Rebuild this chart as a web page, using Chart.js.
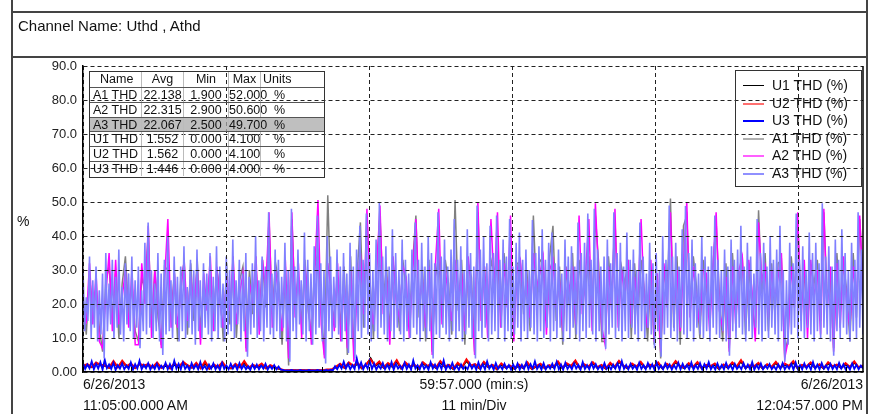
<!DOCTYPE html>
<html>
<head>
<meta charset="utf-8">
<script src="https://cdn.jsdelivr.net/npm/chart.js@4.4.0/dist/chart.umd.min.js"></script>
<style>
html,body{margin:0;padding:0;background:#fff;}
body{width:872px;height:414px;position:relative;overflow:hidden;font-family:"Liberation Sans",Arial,sans-serif;color:#111;}
#c{position:absolute;left:0;top:0;}
.ln{position:absolute;background:#444;}
.txt{position:absolute;white-space:nowrap;font-size:14px;line-height:16px;color:#111;}
#tbl{position:absolute;left:89px;top:71px;width:236px;height:107px;border:1.5px solid #333;box-sizing:border-box;font-size:12.5px;}
#tbl .row{position:absolute;left:0;width:100%;height:15.3px;box-sizing:border-box;}
#tbl .cell{position:absolute;top:0;height:100%;line-height:15px;white-space:nowrap;box-sizing:border-box;}
#leg{position:absolute;left:735px;top:70px;width:127px;height:117px;border:1.5px solid #333;box-sizing:border-box;font-size:14px;}
#leg .item{position:absolute;left:0;height:17px;width:100%;}
#leg .sw{position:absolute;left:7px;top:8px;width:21px;height:2px;}
#leg .lt{position:absolute;left:36px;top:0;line-height:17px;white-space:nowrap;}
</style>
</head>
<body>
<canvas id="c" width="872" height="414"></canvas>
<div class="ln" style="left:11px;top:0;width:2px;height:414px"></div>
<div class="ln" style="left:866px;top:0;width:2px;height:414px"></div>
<div class="ln" style="left:11px;top:11px;width:857px;height:2px"></div>
<div class="ln" style="left:11px;top:56px;width:857px;height:2px"></div>
<div class="txt" style="left:18px;top:17px;font-size:15px;line-height:18px">Channel Name: Uthd , Athd</div>
<div class="txt" style="left:17px;top:213px">%</div>
<div class="txt" style="left:83px;top:376px">6/26/2013</div>
<div class="txt" style="left:83px;top:397px">11:05:00.000 AM</div>
<div class="txt" style="left:374px;width:200px;text-align:center;top:376px">59:57.000 (min:s)</div>
<div class="txt" style="left:374px;width:200px;text-align:center;top:397px">11 min/Div</div>
<div class="txt" style="left:663px;width:200px;text-align:right;top:376px">6/26/2013</div>
<div class="txt" style="left:663px;width:200px;text-align:right;top:397px">12:04:57.000 PM</div>
<div id="tbl"></div>
<div id="leg"></div>
<script>
// ---- data ----
const TOTAL_S = 3597; // 59:57 in seconds
const yTicksMax = 90;
const xMajorTicks = [0, 660, 1320, 1980, 2640, 3300];
const xMinorTicks = [220, 440, 880, 1100, 1540, 1760, 2200, 2420, 2860, 3080, 3520];

const seriesNames = ['U1 THD (%)', 'U2 THD (%)', 'U3 THD (%)', 'A1 THD (%)', 'A2 THD (%)', 'A3 THD (%)'];
const seriesColors = ['#000000', '#ff0000', '#0000ff', '#808080', '#ff00ff', '#8080ff'];
const legendColors = ['#000000', '#ff7070', '#0000ff', '#b0b0b0', '#ff60ff', '#9090ff'];

const tableHead = ['Name', 'Avg', 'Min', 'Max', 'Units'];
const tableNames = ['A1 THD', 'A2 THD', 'A3 THD', 'U1 THD', 'U2 THD', 'U3 THD'];
const tableAvg = ['22.138', '22.315', '22.067', '1.552', '1.562', '1.446'];
const tableMin = ['1.900', '2.900', '2.500', '0.000', '0.000', '0.000'];
const tableMax = ['52.000', '50.600', '49.700', '4.100', '4.100', '4.000'];
const tableUnits = ['%', '%', '%', '%', '%', '%'];

const A3 = [
30,12,22,15,34,10,27,13,31,9,24,11,29,4,35,12,26,14,33,10,28,13,36,11,25,9,32,14,29,12,34,10,27,13,31,7,24,12,38,11,
44,13,30,10,26,12,35,9,29,5,33,11,40,12,27,10,34,14,28,9,31,12,37,10,25,13,33,11,30,8,36,12,27,10,32,13,29,11,35,9,
28,12,37,10,31,13,26,9,34,11,30,12,39,10,27,14,33,9,29,12,35,4.5,28,11,32,13,40,10,27,12,34,9,31,13,47,11,29,10,36,12,
33,10,28,13,38,9,30,3,48,12,31,10,36,14,27,11,41,9,33,12,29,8,37,11,46,13,32,9,30,2.5,40,12,34,10,28,13,36,11,31,9,
35,12,29,5.6,38,10,31,4,36,12,43,10,33,13,46.6,11,35,9,30,12,39,10,49.7,13,34,11,37,9,31,12,42,10,35,13,30,11,39,9,33,12,
29,10,36,13,44,11,33,9,38,12,31,10,40,12,35,4,32,11,47,10,34,13,39,11,31,9,36,12,45,10,33,12,37,9,30,11,42,13,35,10,
31,4,49,12,36,10,40,13,32,9,43,11,35,12,46,10,33,13,39,9,34,12,45,10,31,11,38,13,41,9,33,12,36,10,30,13,44.7,11,35,9,
37,12,42,10,33,13,38,9,41,12,32,10,36,13,29,9,39,12,34,10,37,13,31,11,44,9,35,12,38,10,46.6,13,33,11,48,9,36,12,31,10,
34,6.8,39,11,32,13,47,10,35,12,38,9,31,12,41,10,33,13,36,11,30,9,44,12,34,10,29,13,38,11,32,7,35,12,30,4.5,40,11,33,13,
49,10,34,12,38,9,31,13,42,11,48.8,10,35,12,39,9,32,13,29,11,40,10,34,12,31,9,37,13,46,11,33,10,30,12,36,9,31,4.8,39,12,
33,10,36,13,43,11,31,9,38,12,34,10,29,13,45,11,35,9,38,12,31,10,40,13,33,11,36,9,43,12,30,3,27,8,38,11,32,13,46.6,10,
33,12,37,10,30,13,41,11,35,9,38,12,32,10,49.6,13,34,11,37,9,31,4.8,39,12,33,10,42,13,35,11,30,9,38,12,33,10,47,13,36,11
];
const A1 = [
22,11,28,18,25,13,6,27,31,16,29,10,26,34,17,26,12,9,28,24,
41,14,30,16,8,31,30,17,29,9,28,32,11,32,15,33,12,25,22,30,
16,30,24,9,32,14,31,10,27,31,7,30,17,31,15,33,19,45,17,32,
26,8,31,1.9,45,20,28,14,33,18,11,31,35,18,5,52,20,16,28,13,
31,5,34,6,29,44,13,45,26,10,31,46,21,31,12,32,24,12,33,24,
14,32,46,16,31,9,33,6,28,34,18,33,26,11,50.6,18,33,8,32,28,
6,47,19,31,14,33,29,34,17,35,23,33,13,32,32,17,30,12,46,21,
33,32,15,34,43,15,31,8,31,20,35,10,33,21,25,34,16,46,32,9,
9,34,22,45,17,31,26,33,10,32,16,33,24,9,30,8,25,4,30,23,
51,13,34,8,43,46,20,34,25,10,33,25,16,31,44,22,9,32,7,35,
18,26,34,11,30,20,12,47.6,23,35,12,32,17,32,33,5,10,34,23,44,
19,29,14,31,26,33,15,47,22,27,7,35,17,32,24,9,35,16,45,27
];
const A2 = [
18,15,32,14,29,9,7,23,35,12,33,14,22,30,13,30,8,8,32,20,
43,10,30,20,7,27,45,13,29,13,24,33,15,28,19,31,8,29,18,34,
12,31,20,13,28,18,34,14,23,29,6,26,21,34,11,33,23,47,13,30,
22,12,33,4,47,16,32,10,31,22,8,29,50.6,14,4,32,24,12,32,9,
27,7,30,3,25,35,17,48,22,14,30,49,17,28,8,34,20,16,31,28,
10,29,45,20,27,13,31,5,32,48,14,30,22,15,33,22,29,12,34,24,
5,50,15,31,10,45,25,47,13,32,19,46,9,30,33,21,26,16,35,25,
29,34,11,30,33,19,27,12,30,24,31,14,46,17,29,45,12,49.6,28,13,
8,31,18,48,13,30,22,33,14,28,20,45,20,13,33,9,29,6,32,19,
47,17,30,12,32,50,16,31,21,14,30,29,12,30,47,18,13,28,6,31,
14,30,34,15,33,24,9,44,27,31,16,30,21,28,35,4,9,31,19,47,
15,33,10,33,22,30,11,48,18,31,6,32,13,34,20,13,31,20,46,23
];
const U1 = [
1.6,2.0,1.4,2.6,1.9,1.8,1.2,2.7,1.5,3.0,1.5,2.0,1.1,2.3,1.6,1.9,1.3,2.4,1.3,1.8,
1.0,2.1,1.4,2.7,1.8,1.2,2.2,1.2,2.5,0.9,1.8,1.3,2.4,1.3,1.0,2.0,1.5,2.6,1.1,1.9,
1.4,2.0,1.0,1.8,1.2,0.9,0.5,0.4,0.5,0.4,0.5,0.4,0.5,0.4,0.5,0.4,0.6,0.6,1.3,2.0,
1.2,2.6,1.6,2.3,1.0,2.1,4.1,1.7,2.6,1.2,2.2,1.5,3.0,1.0,2.4,1.4,2.0,0.9,2.5,1.6,
2.0,1.1,2.7,1.5,1.9,0.8,2.3,1.3,3.2,1.7,2.0,1.0,2.6,1.4,1.9,0.7,2.1,1.2,1.7,0.9,
1.8,1.1,2.4,0.8,1.5,2.0,1.0,1.8,1.3,2.7,1.1,2.2,1.6,3.0,1.0,2.1,1.4,2.5,1.2,1.9,
0.9,2.3,1.3,2.9,1.7,1.0,2.1,1.4,2.6,1.1,2.0,1.5,2.4,0.9,2.2,1.3,2.8,1.6,1.1,2.2,
1.3,2.5,1.0,1.9,1.5,2.1,0.8,2.0,1.2,2.4,1.4,3.0,1.1,1.8,1.5,2.3,0.9,2.1,1.3,2.6,
1.1,2.1,1.6,2.7,1.0,1.9,1.4,2.4,1.2,2.1,0.9,2.5,1.5,2.0,1.1,2.2,1.3,2.7,1.2,1.7
];
const U2 = [
1.8,2.3,1.5,2.8,2.1,2.0,1.3,3.2,1.4,3.3,1.7,2.5,1.2,2.4,1.9,2.3,1.4,2.8,1.2,2.2,
1.1,2.6,1.5,3.0,2.0,1.3,2.7,1.1,3.1,1.0,2.2,1.5,2.9,1.2,1.2,2.4,1.4,3.2,1.3,2.1,
1.6,2.5,1.1,2.0,1.4,1.0,0.6,0.5,0.6,0.5,0.6,0.5,0.6,0.5,0.6,0.5,0.7,0.7,1.5,2.4,
1.3,2.8,1.8,2.7,1.2,2.3,3.7,1.9,3.1,1.4,2.6,1.7,3.5,1.2,2.8,1.6,2.2,1.1,2.9,1.8,
2.4,1.3,3.2,1.7,2.1,1.0,2.7,1.5,3.7,1.9,2.3,1.2,3.0,1.6,2.1,0.9,2.5,1.4,1.9,1.1,
2.2,1.3,2.8,1.0,1.7,2.4,1.2,2.0,1.5,3.1,1.3,2.6,1.8,3.4,1.2,2.3,1.6,2.9,1.4,2.1,
1.1,2.7,1.5,3.3,1.9,1.2,2.5,1.6,3.0,1.3,2.2,1.7,2.8,1.1,2.4,1.5,3.2,1.8,1.3,2.6,
1.5,2.9,1.2,2.1,1.7,2.5,1.0,2.2,1.4,2.8,1.6,3.5,1.3,2.0,1.7,2.7,1.1,2.3,1.5,3.0,
1.3,2.5,1.8,3.2,1.2,2.1,1.6,2.8,1.4,2.3,1.1,2.9,1.7,2.2,1.3,2.6,1.5,3.1,1.4,1.9
];
const U3 = [
2.6,0.9,2.2,1.1,3.1,0.8,2.4,1.0,2.9,0.7,3.6,1.1,2.2,0.9,2.7,0.6,2.0,1.0,2.5,0.8,1.9,0.9,2.8,0.7,2.3,1.0,3.3,0.8,2.1,1.1,2.6,0.7,2.0,0.9,2.4,0.8,1.9,1.0,2.7,0.8,
2.3,0.7,3.3,1.0,2.4,0.8,2.8,0.9,1.9,0.6,2.6,1.0,2.1,0.8,2.9,0.9,1.8,0.7,2.2,1.0,2.5,0.8,2.0,0.6,2.7,0.9,1.9,0.8,2.4,1.0,2.1,0.7,2.6,0.9,2.0,0.8,1.7,0.6,2.2,0.9,
2.2,0.8,1.9,1.0,2.4,0.7,1.8,0.9,2.0,0.8,1.6,0.7,0.6,0.4,0.5,0.4,0.6,0.4,0.5,0.4,0.6,0.4,0.5,0.4,0.6,0.4,0.5,0.4,0.6,0.4,0.5,0.4,0.6,0.4,0.7,0.5,1.7,0.8,2.1,1.0,
3.0,1.0,2.4,0.8,2.0,0.9,4.0,1.1,2.8,0.8,2.3,1.0,3.2,0.9,2.5,0.7,1.9,1.0,2.6,0.8,2.1,0.9,2.9,0.7,2.4,1.0,1.8,0.8,2.7,0.9,2.2,0.7,3.4,1.0,2.0,0.8,2.5,0.9,1.9,0.7,
2.9,1.0,2.2,0.8,2.4,0.9,3.4,0.7,2.0,1.0,2.7,0.8,1.8,0.6,2.2,0.9,1.6,0.8,2.5,1.0,2.1,0.7,2.8,0.9,2.3,0.8,3.1,1.0,2.0,0.7,2.6,0.9,1.8,0.8,2.4,1.0,2.0,0.7,2.2,0.9,
2.5,0.7,2.1,0.9,2.8,0.8,2.3,1.0,3.1,0.9,2.0,0.7,2.6,0.8,1.9,1.0,2.4,0.9,3.0,0.8,2.2,0.7,2.7,0.9,1.9,0.8,2.5,1.0,2.1,0.7,2.9,0.9,2.0,0.8,2.6,1.0,2.3,0.8,1.8,0.7,
2.6,0.9,1.8,0.8,2.2,1.0,2.5,0.7,3.2,0.9,2.1,0.8,2.4,1.0,1.9,0.7,2.7,0.9,2.0,0.8,2.6,1.0,2.3,0.7,2.8,0.9,1.9,0.8,2.5,1.0,2.2,0.7,2.0,0.9,2.7,0.8,2.4,1.0,2.1,0.8,
2.8,0.7,2.0,0.9,2.6,0.8,2.3,1.0,2.9,0.8,1.9,0.7,2.5,0.9,2.1,0.8,2.7,1.0,2.0,0.7,2.4,0.9,1.8,0.8,2.6,1.0,2.2,0.8,2.9,0.7,2.0,0.9,2.5,0.8,1.9,1.0,2.3,0.8,1.7,0.7,
2.2,0.9,2.6,0.8,1.9,1.0,2.4,0.7,2.8,0.9,2.0,0.8,2.5,1.0,2.1,0.7,2.9,0.9,2.2,0.8,2.6,1.0,1.9,0.7,2.4,0.9,2.0,0.8,2.7,1.0,2.3,0.8,1.8,0.7,2.5,0.9,2.1,0.8,1.9,1.0
];

// ---- build ----
function toXY(arr) {
  const n = arr.length;
  return arr.map((v, i) => ({ x: i * TOTAL_S / (n - 1), y: v }));
}
const seriesData = [U1, U2, U3, A1, A2, A3];
const widths = [1.6, 2.0, 1.8, 1.5, 1.5, 1.6];

const frameTicks = {
  id: 'frameTicks',
  afterDraw(chart) {
    const { ctx, chartArea: a, scales: { x } } = chart;
    ctx.save();
    ctx.strokeStyle = '#000';
    ctx.lineWidth = 1;
    ctx.beginPath();
    for (const v of xMinorTicks.concat(xMajorTicks)) {
      const px = Math.round(x.getPixelForValue(v)) + 0.5;
      ctx.moveTo(px, a.bottom);
      ctx.lineTo(px, a.bottom - 5);
    }
    ctx.stroke();
    ctx.lineWidth = 1.5;
    ctx.beginPath();
    ctx.moveTo(a.right, a.top);
    ctx.lineTo(a.right, a.bottom);
    ctx.stroke();
    ctx.restore();
  }
};

new Chart(document.getElementById('c'), {
  type: 'line',
  data: {
    datasets: seriesData.map((d, i) => ({
      label: seriesNames[i],
      data: toXY(d),
      borderColor: seriesColors[i],
      borderWidth: widths[i],
      pointRadius: 0,
      tension: 0,
      fill: false,
      order: seriesData.length - i
    }))
  },
  options: {
    responsive: false,
    animation: false,
    layout: { padding: { top: 66, right: 9, left: 0, bottom: 0 } },
    plugins: { legend: { display: false }, tooltip: { enabled: false } },
    scales: {
      x: {
        type: 'linear', min: 0, max: TOTAL_S,
        afterBuildTicks: (s) => { s.ticks = xMajorTicks.map(v => ({ value: v })); },
        afterFit: (s) => { s.height = 42; },
        ticks: { display: false },
        grid: { color: '#222', lineWidth: 1, drawTicks: false, z: 1 },
        border: { color: '#000', width: 1.5, dash: [4, 3], z: 1 }
      },
      y: {
        min: 0, max: yTicksMax,
        afterFit: (s) => { s.width = 83; },
        ticks: {
          stepSize: 10, padding: 6, color: '#222',
          font: { size: 13, family: '"Liberation Sans", Arial, sans-serif' },
          callback: (v) => v === 0 ? '0.00' : Number(v).toFixed(1)
        },
        grid: { color: '#222', lineWidth: 1, drawTicks: false, z: 1 },
        border: { color: '#000', width: 1.5, dash: [4, 3], z: 1 }
      }
    }
  },
  plugins: [frameTicks]
});

// ---- table ----
const tbl = document.getElementById('tbl');
const colLeft = [0, 51, 93, 138, 170];
const colW = [51, 42, 45, 32, 66];
const rowH = 104 / 7;
function addRow(vals, r, shaded) {
  const row = document.createElement('div');
  row.className = 'row';
  row.style.top = (r * rowH) + 'px';
  row.style.height = rowH + 'px';
  if (r > 0) row.style.borderTop = '1px solid #555';
  if (shaded) row.style.background = 'rgba(170,170,170,0.75)';
  vals.forEach((v, c) => {
    const cell = document.createElement('div');
    cell.className = 'cell';
    cell.style.left = colLeft[c] + 'px';
    cell.style.width = colW[c] + 'px';
    if (c > 0) cell.style.borderLeft = '1px solid #bbb';
    if (c === 0) { cell.style.paddingLeft = r === 0 ? '10px' : '3px'; }
    else if (c === 4) { cell.style.paddingLeft = r === 0 ? '2px' : '13px'; }
    else { cell.style.textAlign = 'center'; }
    cell.textContent = v;
    row.appendChild(cell);
  });
  tbl.appendChild(row);
}
addRow(tableHead, 0, false);
tableNames.forEach((n, i) => addRow([n, tableAvg[i], tableMin[i], tableMax[i], tableUnits[i]], i + 1, i === 2));

// ---- legend ----
const leg = document.getElementById('leg');
seriesNames.forEach((n, i) => {
  const it = document.createElement('div');
  it.className = 'item';
  it.style.top = (6 + i * 17.5) + 'px';
  const sw = document.createElement('div');
  sw.className = 'sw';
  sw.style.background = legendColors[i];
  if (i === 0) { sw.style.height = '1px'; }
  const lt = document.createElement('div');
  lt.className = 'lt';
  lt.textContent = n;
  it.appendChild(sw);
  it.appendChild(lt);
  leg.appendChild(it);
});
</script>
</body>
</html>
